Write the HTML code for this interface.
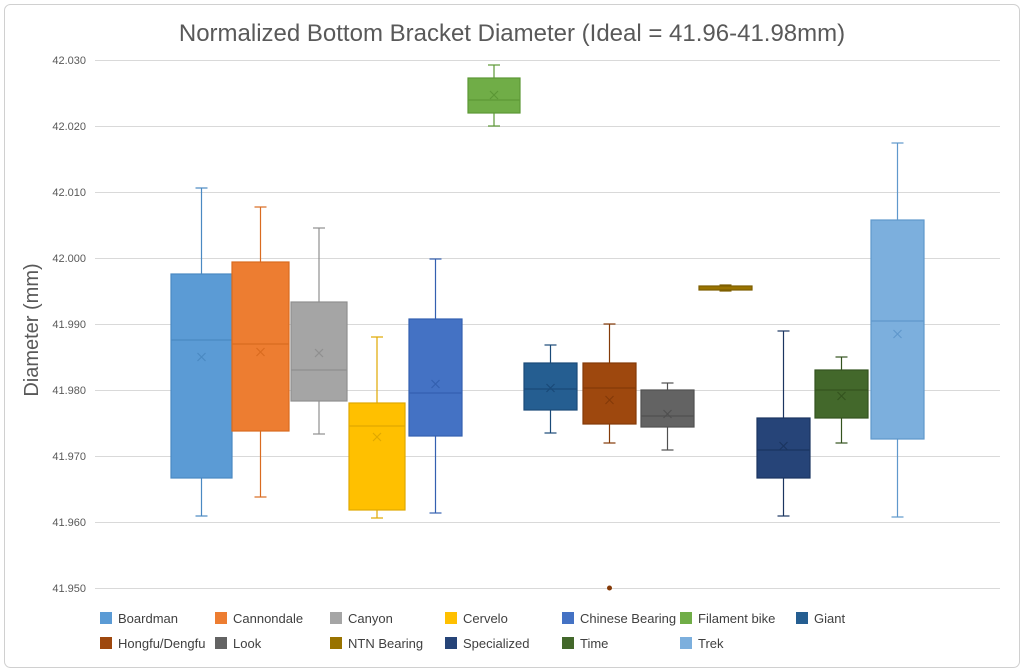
<!DOCTYPE html>
<html><head><meta charset="utf-8"><style>
html,body{margin:0;padding:0;background:#fff;}
svg{display:block;font-family:"Liberation Sans",sans-serif;}
</style></head><body>
<svg width="1024" height="672" viewBox="0 0 1024 672" xmlns="http://www.w3.org/2000/svg">
<rect x="4.5" y="4.5" width="1015" height="663" rx="6" fill="#fff" stroke="#d0d0d0"/>
<text x="512" y="41" text-anchor="middle" font-size="24" fill="#595959">Normalized Bottom Bracket Diameter (Ideal = 41.96-41.98mm)</text>
<text transform="translate(38,330) rotate(-90)" text-anchor="middle" font-size="20" fill="#595959">Diameter (mm)</text>
<g stroke="#d9d9d9" stroke-width="1">
<line x1="95" y1="60.5" x2="1000" y2="60.5"/><line x1="95" y1="126.5" x2="1000" y2="126.5"/>
<line x1="95" y1="192.5" x2="1000" y2="192.5"/><line x1="95" y1="258.5" x2="1000" y2="258.5"/>
<line x1="95" y1="324.5" x2="1000" y2="324.5"/><line x1="95" y1="390.5" x2="1000" y2="390.5"/>
<line x1="95" y1="456.5" x2="1000" y2="456.5"/><line x1="95" y1="522.5" x2="1000" y2="522.5"/>
<line x1="95" y1="588.5" x2="1000" y2="588.5"/>
</g>
<g font-size="11" fill="#595959" text-anchor="end">
<text x="86" y="64">42.030</text><text x="86" y="130">42.020</text><text x="86" y="196">42.010</text>
<text x="86" y="262">42.000</text><text x="86" y="328">41.990</text><text x="86" y="394">41.980</text>
<text x="86" y="460">41.970</text><text x="86" y="526">41.960</text><text x="86" y="592">41.950</text>
</g>
<g stroke-width="1.2">
<g stroke="#4a89c2"><line x1="201.5" y1="188" x2="201.5" y2="516"/><line x1="195.5" y1="188" x2="207.5" y2="188"/><line x1="195.5" y1="516" x2="207.5" y2="516"/>
<rect x="171" y="274" width="61" height="204" fill="#5b9bd5"/><line x1="171" y1="340" x2="232" y2="340"/><path d="M197.5 353l8 8M205.5 353l-8 8"/></g>
<g stroke="#d96b20"><line x1="260.5" y1="207" x2="260.5" y2="497"/><line x1="254.5" y1="207" x2="266.5" y2="207"/><line x1="254.5" y1="497" x2="266.5" y2="497"/>
<rect x="232" y="262" width="57" height="169" fill="#ed7d31"/><line x1="232" y1="344" x2="289" y2="344"/><path d="M256.5 348l8 8M264.5 348l-8 8"/></g>
<g stroke="#8f8f8f"><line x1="319" y1="228" x2="319" y2="434"/><line x1="313" y1="228" x2="325" y2="228"/><line x1="313" y1="434" x2="325" y2="434"/>
<rect x="291" y="302" width="56" height="99" fill="#a5a5a5"/><line x1="291" y1="370" x2="347" y2="370"/><path d="M315 349l8 8M323 349l-8 8"/></g>
<g stroke="#e0a800"><line x1="377" y1="337" x2="377" y2="518"/><line x1="371" y1="337" x2="383" y2="337"/><line x1="371" y1="518" x2="383" y2="518"/>
<rect x="349" y="403" width="56" height="107" fill="#ffc000"/><line x1="349" y1="426" x2="405" y2="426"/><path d="M373 433l8 8M381 433l-8 8"/></g>
<g stroke="#3460b0"><line x1="435.5" y1="259" x2="435.5" y2="513"/><line x1="429.5" y1="259" x2="441.5" y2="259"/><line x1="429.5" y1="513" x2="441.5" y2="513"/>
<rect x="409" y="319" width="53" height="117" fill="#4472c4"/><line x1="409" y1="393" x2="462" y2="393"/><path d="M431.5 380l8 8M439.5 380l-8 8"/></g>
<g stroke="#5c9836"><line x1="494" y1="65" x2="494" y2="126"/><line x1="488" y1="65" x2="500" y2="65"/><line x1="488" y1="126" x2="500" y2="126"/>
<rect x="468" y="78" width="52" height="35" fill="#70ad47"/><line x1="468" y1="100" x2="520" y2="100"/><path d="M490 91l8 8M498 91l-8 8"/></g>
<g stroke="#1a4a78"><line x1="550.5" y1="345" x2="550.5" y2="433"/><line x1="544.5" y1="345" x2="556.5" y2="345"/><line x1="544.5" y1="433" x2="556.5" y2="433"/>
<rect x="524" y="363" width="53" height="47" fill="#255e91"/><line x1="524" y1="389" x2="577" y2="389"/><path d="M546.5 384l8 8M554.5 384l-8 8"/></g>
<g stroke="#843a08"><line x1="609.5" y1="324" x2="609.5" y2="443"/><line x1="603.5" y1="324" x2="615.5" y2="324"/><line x1="603.5" y1="443" x2="615.5" y2="443"/>
<rect x="583" y="363" width="53" height="61" fill="#9e480e"/><line x1="583" y1="388" x2="636" y2="388"/><path d="M605.5 396l8 8M613.5 396l-8 8"/></g>
<g stroke="#505050"><line x1="667.5" y1="383" x2="667.5" y2="450"/><line x1="661.5" y1="383" x2="673.5" y2="383"/><line x1="661.5" y1="450" x2="673.5" y2="450"/>
<rect x="641" y="390" width="53" height="37" fill="#636363"/><line x1="641" y1="416" x2="694" y2="416"/><path d="M663.5 410l8 8M671.5 410l-8 8"/></g>
<g stroke="#7d5e00"><line x1="719.5" y1="285" x2="731.5" y2="285"/><line x1="719.5" y1="291" x2="731.5" y2="291"/>
<rect x="699" y="286" width="53" height="4" fill="#997300"/></g>
<g stroke="#1b3560"><line x1="783.5" y1="331" x2="783.5" y2="516"/><line x1="777.5" y1="331" x2="789.5" y2="331"/><line x1="777.5" y1="516" x2="789.5" y2="516"/>
<rect x="757" y="418" width="53" height="60" fill="#264478"/><line x1="757" y1="450" x2="810" y2="450"/><path d="M779.5 442l8 8M787.5 442l-8 8"/></g>
<g stroke="#34531f"><line x1="841.5" y1="357" x2="841.5" y2="443"/><line x1="835.5" y1="357" x2="847.5" y2="357"/><line x1="835.5" y1="443" x2="847.5" y2="443"/>
<rect x="815" y="370" width="53" height="48" fill="#43682b"/><line x1="815" y1="390" x2="868" y2="390"/><path d="M837.5 392l8 8M845.5 392l-8 8"/></g>
<g stroke="#5f98cc"><line x1="897.5" y1="143" x2="897.5" y2="517"/><line x1="891.5" y1="143" x2="903.5" y2="143"/><line x1="891.5" y1="517" x2="903.5" y2="517"/>
<rect x="871" y="220" width="53" height="219" fill="#7cafdd"/><line x1="871" y1="321" x2="924" y2="321"/><path d="M893.5 330l8 8M901.5 330l-8 8"/></g>
</g>
<circle cx="609.5" cy="588" r="2.5" fill="#843a08"/>
<g font-size="13" fill="#404040">
<rect x="100" y="612" width="12" height="12" fill="#5b9bd5"/><text x="118" y="623">Boardman</text>
<rect x="215" y="612" width="12" height="12" fill="#ed7d31"/><text x="233" y="623">Cannondale</text>
<rect x="330" y="612" width="12" height="12" fill="#a5a5a5"/><text x="348" y="623">Canyon</text>
<rect x="445" y="612" width="12" height="12" fill="#ffc000"/><text x="463" y="623">Cervelo</text>
<rect x="562" y="612" width="12" height="12" fill="#4472c4"/><text x="580" y="623">Chinese Bearing</text>
<rect x="680" y="612" width="12" height="12" fill="#70ad47"/><text x="698" y="623">Filament bike</text>
<rect x="796" y="612" width="12" height="12" fill="#255e91"/><text x="814" y="623">Giant</text>
<rect x="100" y="637" width="12" height="12" fill="#9e480e"/><text x="118" y="648">Hongfu/Dengfu</text>
<rect x="215" y="637" width="12" height="12" fill="#636363"/><text x="233" y="648">Look</text>
<rect x="330" y="637" width="12" height="12" fill="#997300"/><text x="348" y="648">NTN Bearing</text>
<rect x="445" y="637" width="12" height="12" fill="#264478"/><text x="463" y="648">Specialized</text>
<rect x="562" y="637" width="12" height="12" fill="#43682b"/><text x="580" y="648">Time</text>
<rect x="680" y="637" width="12" height="12" fill="#7cafdd"/><text x="698" y="648">Trek</text>
</g>
</svg>
</body></html>
